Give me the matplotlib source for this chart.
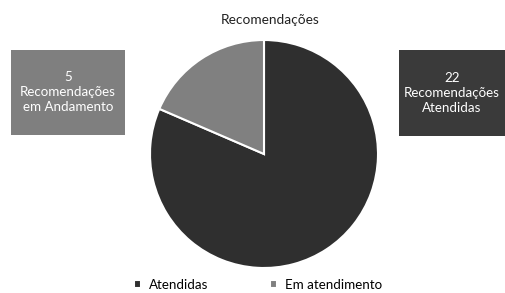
import matplotlib.pyplot as plt
from matplotlib.patches import Rectangle

plt.rcParams['font.family'] = ['Lato', 'DejaVu Sans']

labels = ['Atendidas', 'Em atendimento']
values = [22, 5]
colors = ['#2f2f2f', '#808080']
box_texts = ['5\nRecomendações\nem Andamento', '22\nRecomendações\nAtendidas']

W, H = 505, 293
fig = plt.figure(figsize=(W / 100, H / 100), dpi=100)

# pie centred at (264, 154) px, radius 114 px
cx, cy, r = 264, 154, 114
ax = fig.add_axes([(cx - r) / W, (H - cy - r) / H, 2 * r / W, 2 * r / H])
wedges, _ = ax.pie(values, colors=colors, startangle=90, counterclock=False,
                   wedgeprops=dict(edgecolor='white', linewidth=1.5))
ax.set_xlim(-1.0, 1.0)
ax.set_ylim(-1.0, 1.0)
ax.set_aspect('equal')
ax.axis('off')

fig.text(270 / W, 1 - 20 / H, 'Recomendações', ha='center', va='center',
         fontsize=9.8, color='#222222')

# label boxes (left: em andamento, right: atendidas)
boxes = [(11, 50, 114, 85, '#7f7f7f', box_texts[0]),
         (399, 50, 110, 86, '#3a3a3a', box_texts[1])]
for x, y, w, h, c, t in boxes:
    fig.patches.append(Rectangle((x / W, 1 - (y + h) / H), w / W, h / H,
                                 transform=fig.transFigure, facecolor=c,
                                 edgecolor='none'))
    tx = (x + min(w, W - x) / 2) / W
    fig.text(tx, 1 - (y + h / 2) / H, t, ha='center', va='center',
             fontsize=9.6, color='white', linespacing=1.3)

leg = fig.legend(wedges, labels, loc='center', bbox_to_anchor=(258 / W, 1 - 285 / H),
                 ncol=2, frameon=False, fontsize=9.6, handlelength=0.55,
                 handleheight=0.55, columnspacing=4.6, handletextpad=0.6)

fig.savefig('out.png', dpi=100)
